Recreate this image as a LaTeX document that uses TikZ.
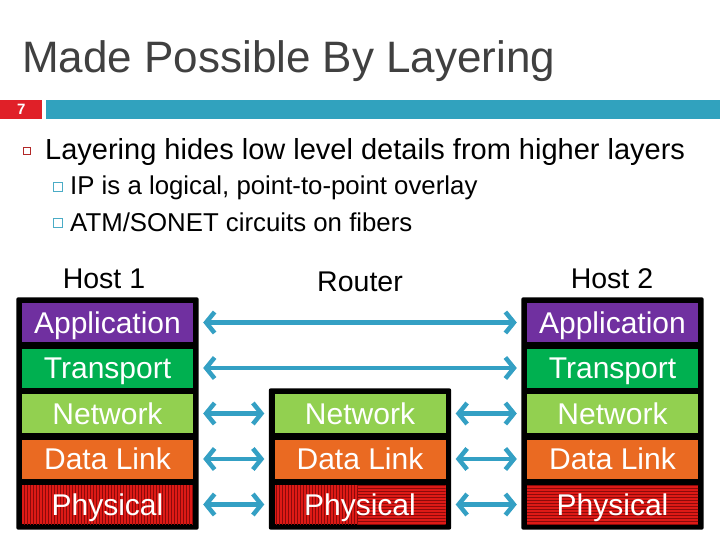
\documentclass[tikz,border=0pt]{standalone}
\usepackage{fontspec}
\setmainfont{Liberation Sans}
\usepackage{tikz}
\usetikzlibrary{arrows.meta, patterns, fit, backgrounds}
\definecolor{figTitle}{RGB}{64,64,64}
\definecolor{figNum}{RGB}{224,32,40}
\definecolor{figBar}{RGB}{49,162,190}
\definecolor{figArr}{RGB}{52,160,196}
\definecolor{figApp}{RGB}{112,48,160}
\definecolor{figTrn}{RGB}{0,176,80}
\definecolor{figNet}{RGB}{146,208,80}
\definecolor{figDL}{RGB}{234,106,34}
\definecolor{figPhy}{RGB}{222,26,22}
\definecolor{figStripe}{RGB}{140,10,10}
\definecolor{figSq}{RGB}{178,40,40}
\definecolor{figSub}{RGB}{75,172,198}
\tikzset{layer/.style={minimum width=171pt, minimum height=39pt, inner sep=0pt,
  text height=21pt, text depth=0pt, text=white, font=\fontsize{30}{30}\selectfont},
  stackbox/.style={fill=black, rounded corners=2pt, inner sep=5.5pt},
  layarrow/.style={figArr, line width=4.5pt,
    {Straight Barb[length=8.5pt,width=21pt]}-{Straight Barb[length=8.5pt,width=21pt]},
    shorten <=10pt, shorten >=10pt},
  phyV/.style={fill=figPhy, postaction={pattern=vertical lines, pattern color=figStripe}},
  phyH/.style={fill=figPhy, postaction={pattern=horizontal lines, pattern color=figStripe}},
  phyVH/.style={fill=figPhy, path picture={
    \fill[pattern=vertical lines, pattern color=figStripe] (path picture bounding box.south west)
      rectangle ([xshift=-2pt]path picture bounding box.north);
    \fill[pattern=horizontal lines, pattern color=figStripe] ([xshift=-2pt]path picture bounding box.south)
      rectangle (path picture bounding box.north east);}}}

\begin{document}
\begin{tikzpicture}[x=1pt, y=-1pt]
\useasboundingbox (0,0) rectangle (720,540);
% title and header bar
\node[anchor=base west, inner sep=0pt, text=figTitle, font=\fontsize{44}{48}\selectfont] (title) at (22,73) {Made Possible By Layering};
\node[anchor=north west, fill=figNum, minimum width=42pt, minimum height=19pt, inner sep=0pt,
  text=white, font=\bfseries\fontsize{15}{15}\selectfont] (num) at (0,100) {7};
\node[anchor=north west, fill=figBar, minimum width=674pt, minimum height=19pt, inner sep=0pt] (bar) at (46,100) {};
% bullets
\node[draw=figSq, line width=1.2pt, minimum size=7pt, inner sep=0pt] (sq1) at (27,151) {};
\node[anchor=base west, inner sep=0pt, font=\fontsize{29}{30}\selectfont] (hides) at (45,160) {Layering hides low level details from higher layers};
\node[draw=figSub, line width=1pt, minimum size=9pt, inner sep=0pt] (sq2) at (57.5,187) {};
\node[anchor=base west, inner sep=0pt, font=\fontsize{25.8}{27}\selectfont] (ip) at (70,195) {IP is a logical, point-to-point overlay};
\node[draw=figSub, line width=1pt, minimum size=9pt, inner sep=0pt] (sq3) at (57.5,223) {};
\node[anchor=base west, inner sep=0pt, font=\fontsize{25.8}{27}\selectfont] (atm) at (70,231) {ATM/SONET circuits on fibers};
% stack titles
\node[anchor=base, inner sep=0pt, font=\fontsize{28.5}{28.5}\selectfont] (lh1) at (104,288) {Host 1};
\node[anchor=base, inner sep=0pt, font=\fontsize{28.5}{28.5}\selectfont] (lr) at (360,291) {Router};
\node[anchor=base, inner sep=0pt, font=\fontsize{28.5}{28.5}\selectfont] (lh2) at (612,288) {Host 2};
% host 1 layers
\node[layer, fill=figApp] (h1app) at (107.5,322.5) {Application};
\node[layer, fill=figTrn] (h1trn) at (107.5,368) {Transport};
\node[layer, fill=figNet] (h1net) at (107.5,413.5) {Network};
\node[layer, fill=figDL] (h1dl) at (107.5,459) {Data Link};
\node[layer, phyV] (h1phy) at (107.5,504.5) {Physical};
% router layers
\node[layer, fill=figNet] (rnet) at (360,413.5) {Network};
\node[layer, fill=figDL] (rdl) at (360,459) {Data Link};
\node[layer, phyVH] (rphy) at (360,504.5) {Physical};
% host 2 layers
\node[layer, fill=figApp] (h2app) at (612.5,322.5) {Application};
\node[layer, fill=figTrn] (h2trn) at (612.5,368) {Transport};
\node[layer, fill=figNet] (h2net) at (612.5,413.5) {Network};
\node[layer, fill=figDL] (h2dl) at (612.5,459) {Data Link};
\node[layer, phyH] (h2phy) at (612.5,504.5) {Physical};
% black frames behind the stacks
\begin{scope}[on background layer]
\fill[white] (0,0) rectangle (720,540);
\node[stackbox, fit=(h1app)(h1phy)] (host1) {};
\node[stackbox, fit=(rnet)(rphy)] (router) {};
\node[stackbox, fit=(h2app)(h2phy)] (host2) {};
\end{scope}
% peer arrows
\draw[layarrow] (h1app.east) -- (h2app.west);
\draw[layarrow] (h1trn.east) -- (h2trn.west);
\foreach \l in {net,dl,phy} {
  \draw[layarrow] (h1\l.east) -- (r\l.west);
  \draw[layarrow] (r\l.east) -- (h2\l.west);
}
\end{tikzpicture}
\end{document}
